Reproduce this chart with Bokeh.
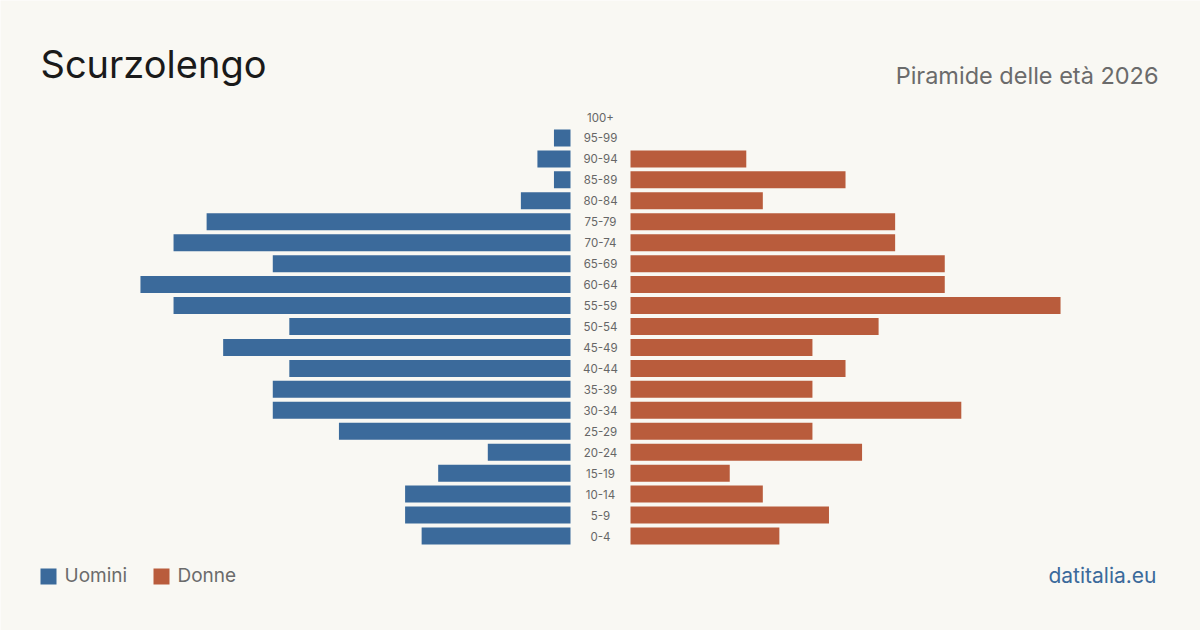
from bokeh.plotting import figure
from bokeh.models import Range1d, Label
from bokeh.core.properties import value
from bokeh.embed import file_html
from bokeh.resources import INLINE

ages = ["0-4", "5-9", "10-14", "15-19", "20-24", "25-29", "30-34", "35-39",
        "40-44", "45-49", "50-54", "55-59", "60-64", "65-69", "70-74", "75-79",
        "80-84", "85-89", "90-94", "95-99", "100+"]
men = [9, 10, 10, 8, 5, 14, 18, 18, 17, 21, 17, 24, 26, 18, 24, 22, 3, 1, 2, 1, 0]
women = [9, 12, 8, 6, 14, 11, 20, 11, 13, 11, 15, 26, 19, 19, 16, 16, 8, 13, 7, 0, 0]

title = "Scurzolengo"
subtitle = "Piramide delle età 2026"
source = "datitalia.eu"

BLUE = "#3b6a9b"
ORANGE = "#b95c3c"
BG = "#f9f8f3"
FONT = "Inter"

W, H = 1200, 630
S = 16.54          # pixels per person
STEP = 20.95       # pixels per age row
CX, Y0 = 600, 535.5  # centre column, row 0 pixel
GAP = 30 / S


def X(px):
    return (px - CX) / S


def Y(py):
    return (Y0 - py) / STEP


def base(py, size):
    # compensate baseline rendering offset
    return Y(py - 0.4 * size)


p = figure(width=W, height=H, output_backend="svg", toolbar_location=None,
           x_range=Range1d(X(0), X(W)), y_range=Range1d(Y(H), Y(0)),
           min_border=0, x_axis_type=None, y_axis_type=None)
p.grid.visible = False
p.outline_line_color = None
p.background_fill_color = BG
p.border_fill_color = BG

idx = list(range(len(ages)))
p.hbar(y=idx, left=[-(GAP + m) for m in men], right=[-GAP] * len(men),
       height=0.81, color=BLUE, line_color=None)
p.hbar(y=idx, left=[GAP] * len(women), right=[GAP + w for w in women],
       height=0.81, color=ORANGE, line_color=None)

p.text(x=[0] * len(ages), y=idx, text=ages, text_align="center",
       text_baseline="middle", text_font=value(FONT), text_font_size="11.5px",
       text_color="#666666")

p.add_layout(Label(x=X(40), y=base(79, 38), text=title, text_font=FONT,
                   text_font_size="38px", text_color="#1a1a1a",
                   text_baseline="alphabetic"))
p.add_layout(Label(x=X(1158), y=base(84, 23.5), text=subtitle, text_font=FONT,
                   text_font_size="23.5px", text_color="#6b6b6b",
                   text_align="right", text_baseline="alphabetic"))
p.add_layout(Label(x=X(1156), y=base(583, 21), text=source, text_font=FONT,
                   text_font_size="21px", text_color=BLUE,
                   text_align="right", text_baseline="alphabetic"))

# legend
sq = 16 / STEP
p.rect(x=[X(48), X(161)], y=[Y(576), Y(576)], width=16 / S, height=sq,
       color=[BLUE, ORANGE], line_color=None)
p.text(x=[X(64), X(177)], y=[base(583, 19)] * 2, text=["Uomini", "Donne"],
       text_font=value(FONT), text_font_size="19px", text_color="#6b6b6b",
       text_baseline="alphabetic")

open("out.html", "w").write(file_html(p, INLINE))
